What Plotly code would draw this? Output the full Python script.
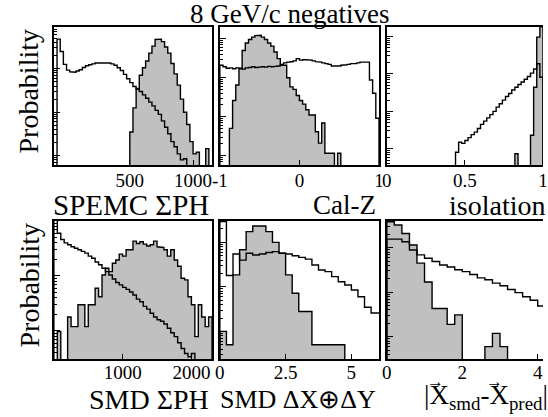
import plotly.graph_objects as go

W, H = 548, 417

# ---------------- data (histogram bin contents, arbitrary units) ----------------
# Panel 1: SPEMC sum PH
spemc_bin_lo, spemc_bin_w = -100.0, 25.0
spemc_pions = [0, 480, 250, 126, 93, 85, 83, 89, 95, 107, 117, 123, 129, 135,
               138, 140, 138, 135, 129, 120, 105, 91, 74, 59, 48, 39, 34, 30,
               25, 21, 17, 14, 11, 8.9, 6.3, 4.5, 3.2, 2.1, 1.6, 1.1, 0.8, 0.85]
spemc_e_lo = 475.0
spemc_electrons = [0, 3.5, 12.6, 35, 71, 105, 151, 229, 331, 470, 480, 420, 316,
                   229, 132, 76, 42, 20, 10, 5.2, 2.1, 1.1, 1.2, 0, 0, 1.45]

# Panel 2: Cal-Z
calz_bin_lo, calz_bin_w = -1.0, 0.04
calz_pions = [209, 190, 174, 178, 170, 178, 174, 166, 178, 182, 190, 182, 186,
              190, 186, 195, 190, 195, 200, 219, 240, 251, 257, 269, 309, 282,
              288, 288, 282, 269, 257, 251, 240, 229, 219, 200, 195, 200, 209,
              214, 219, 229, 229, 240, 251, 257, 251, 87, 40, 9.1]
calz_electrons = [0, 0, 0, 5.0, 26, 65, 170, 500, 776, 955, 1096, 1202, 1230,
                  1096, 955, 776, 646, 457, 309, 209, 209, 100, 58, 50, 35, 26,
                  21, 15, 11, 11, 4.1, 2.1, 6.9, 1.15, 1.15, 1.15, 0, 1.15, 0, 0,
                  0, 0, 0, 0, 0, 0, 0, 0, 0, 0]

# Panel 3: isolation
iso_bin_lo, iso_bin_w = 0.0, 0.02
iso_pions = [0] * 22 + [0.81, 1.5, 1.4, 1.67, 2.0, 2.4, 2.8, 3.5, 4.5, 5.5, 6.7,
                        8.2, 10, 13, 16, 20, 25, 30, 37, 44, 52, 61, 72, 85, 105,
                        135, 186, 81]
iso_electrons = [0] * 41 + [0.74, 0, 0, 0, 0, 2.3, 44, 955, 1800]

# Panel 4: SMD sum PH
smd_bin_lo, smd_bin_w = 0.0, 50.0
smd_pions = [110, 60, 46, 40, 37, 34, 32, 30, 28, 26, 23, 21, 18, 16, 13.8, 12,
             10.4, 8.8, 7.6, 6.9, 6.2, 5.7, 5.1, 4.5, 3.8, 3.4, 2.8, 2.5, 2.1,
             1.8, 1.6, 1.5, 1.34, 1.12, 0.93, 0.79, 0.61, 0.48, 0.39, 0.34, 0.39,
             0, 0, 0, 0, 0]
smd_electrons = [0, 0.98, 0, 0, 1.8, 1.2, 1.2, 3.0, 3.0, 1.2, 3.0, 3.0, 6.0, 4.2,
                 10.4, 13.8, 12, 17, 19.5, 25, 23, 30, 30, 43, 39, 42, 38, 35, 37,
                 43, 34, 33, 30, 23, 30, 19.5, 15, 9.1, 8.5, 4.2, 3.0, 0.79, 3.0,
                 1.8, 1.2, 1.8]

# Panel 5: SMD dX (+) dY
dxy_bin_lo, dxy_bin_w = 0.0, 0.25
dxy_pions = [295, 18, 55, 40, 57, 52, 55, 59, 62, 57, 55, 50, 46, 42, 31, 24, 22,
             17, 13, 11, 8.5, 6.0, 3.5, 2.6, 2.6]
dxy_electrons = [1.0, 0.5, 18.6, 68, 174, 234, 234, 174, 100, 57, 18.6, 7.2, 2.8,
                 2.8, 0.5, 0.5, 0.5, 0.5, 0.5, 0, 0, 0, 0, 0, 0]

# Panel 6: |X_smd - X_pred|
dist_bin_lo, dist_bin_w = 0.0, 0.2
dist_pions = [156, 156, 136, 89, 69, 58, 49, 41, 37, 32, 29, 25, 21, 19, 16, 14,
              11.5, 9.8, 7.9, 6.6, 4.9, 3.6]
dist_electrons = [383, 324, 209, 115, 45, 17, 4.3, 4.3, 1.9, 3.1, 0, 0, 0, 0.6,
                  1.19, 0.6, 0, 0, 0, 0, 0, 0]

# tick labels
tick_sets = [
    ([500, 1000], ["500", "1000"]),
    ([-1, 0, 1], ["-1", "0", "1"]),
    ([0, 0.5, 1], ["0", "0.5", "1"]),
    ([1000, 2000], ["1000", "2000"]),
    ([0, 2.5, 5], ["0", "2.5", "5"]),
    ([0, 2, 4], ["0", "2", "4"]),
]
x_titles = ["SPEMC ΣPH", "Cal-Z", "isolation", "SMD ΣPH", "SMD ΔX⊕ΔY",
            "|X<sub>smd</sub>-X<sub>pred</sub>|"]
title_sizes = [29, 27, 28, 28, 26, 27]

# ---------------- styling / layout ----------------
FONT = "Liberation Serif"
GRAY = "#c0c0c0"
FLOOR = 1e-4

cols = [(47, 209), (217, 380), (388, 548)]
rows = [(27, 165), (221, 359)]
x_ranges = [[-100, 1150], [-1, 1], [0, 1.0], [0, 2300], [0, 6.05], [0, 4.14]]
y_ranges = [[-0.215, 2.96], [-0.24, 3.30], [-0.43, 3.25],
            [-0.51, 2.0], [-0.62, 2.48], [-0.5, 2.6]]

hists = [
    (spemc_bin_lo, spemc_bin_w, spemc_pions, spemc_e_lo, spemc_bin_w, spemc_electrons),
    (calz_bin_lo, calz_bin_w, calz_pions, calz_bin_lo, calz_bin_w, calz_electrons),
    (iso_bin_lo, iso_bin_w, iso_pions, iso_bin_lo, iso_bin_w, iso_electrons),
    (smd_bin_lo, smd_bin_w, smd_pions, smd_bin_lo, smd_bin_w, smd_electrons),
    (dxy_bin_lo, dxy_bin_w, dxy_pions, dxy_bin_lo, dxy_bin_w, dxy_electrons),
    (dist_bin_lo, dist_bin_w, dist_pions, dist_bin_lo, dist_bin_w, dist_electrons),
]


def step_xy(lo, w, vals):
    xs, ys = [lo], [FLOOR]
    for i, v in enumerate(vals):
        y = v if v > 0 else FLOOR
        xs += [lo + i * w, lo + (i + 1) * w]
        ys += [y, y]
    xs.append(lo + len(vals) * w)
    ys.append(FLOOR)
    return xs, ys


fig = go.Figure()
layout = dict(
    width=W, height=H, margin=dict(l=0, r=0, t=0, b=0),
    paper_bgcolor="white", plot_bgcolor="white", showlegend=False,
    font=dict(family=FONT, color="black", size=18),
)
annotations = []

for k in range(6):
    r, c = divmod(k, 3)
    xa = "x" if k == 0 else f"x{k + 1}"
    ya = "y" if k == 0 else f"y{k + 1}"
    xkey = "xaxis" if k == 0 else f"xaxis{k + 1}"
    ykey = "yaxis" if k == 0 else f"yaxis{k + 1}"
    x0, x1 = cols[c]
    y0, y1 = rows[r]

    plo, pw, pv, elo, ew, ev = hists[k]
    ex, ey = step_xy(elo, ew, ev)
    fig.add_trace(go.Scatter(x=ex, y=ey, mode="lines", fill="toself",
                             fillcolor=GRAY, line=dict(color="black", width=1.4),
                             xaxis=xa, yaxis=ya, hoverinfo="skip"))
    px_, py_ = step_xy(plo, pw, pv)
    fig.add_trace(go.Scatter(x=px_, y=py_, mode="lines",
                             line=dict(color="black", width=1.4),
                             xaxis=xa, yaxis=ya, hoverinfo="skip"))

    tv, tt = tick_sets[k]
    layout[xkey] = dict(
        domain=[x0 / W, x1 / W], anchor=ya, range=x_ranges[k],
        showgrid=False, zeroline=False, showline=True, linecolor="black",
        linewidth=1.5, mirror=True, ticks="inside", ticklen=5, tickwidth=1,
        tickcolor="black", tickvals=tv, ticktext=tt,
        ticklabelstandoff=(-3 if r == 0 else -5),
        tickfont=dict(family=FONT, size=19, color="black"),
    )
    layout[ykey] = dict(
        domain=[1 - y1 / H, 1 - y0 / H], anchor=xa, type="log",
        range=y_ranges[k], showgrid=False, zeroline=False, showline=True,
        linecolor="black", linewidth=1.5, mirror=(c != 2),
        ticks="inside", ticklen=6, tickwidth=1, tickcolor="black", dtick=1,
        showticklabels=False,
        minor=dict(ticks="inside", ticklen=3, tickwidth=1, tickcolor="black",
                   showgrid=False),
    )
    if k == 5:
        # left aligned so the vector arrows can sit over the two X's
        annotations.append(dict(
            text=x_titles[k], xref="paper", yref="paper",
            x=424 / W, y=1 - 397 / H, xanchor="left", yanchor="middle",
            showarrow=False, font=dict(family=FONT, size=title_sizes[k], color="black"),
        ))
        for xc in (438, 498):
            annotations.append(dict(
                text="\u2192", xref="paper", yref="paper", x=xc / W,
                y=1 - 381 / H, xanchor="center", yanchor="middle",
                showarrow=False, font=dict(family=FONT, size=17, color="black"),
            ))
    else:
        annotations.append(dict(
            text=x_titles[k], xref="paper", yref="paper",
            x=(x1 + (4 if c == 2 else -1)) / W, y=1 - (y1 + 40) / H,
            xanchor="right", yanchor="middle", showarrow=False,
            font=dict(family=FONT, size=title_sizes[k], color="black"),
        ))

for r in range(2):
    y0, y1 = rows[r]
    annotations.append(dict(
        text="Probability", xref="paper", yref="paper", x=22 / W,
        y=1 - ((y0 + y1) / 2 - 5) / H, xanchor="center", yanchor="middle",
        textangle=-90, showarrow=False,
        font=dict(family=FONT, size=28, color="black"),
    ))

annotations.append(dict(
    text="8 GeV/c negatives", xref="paper", yref="paper", x=288 / W,
    y=1 - 14 / H, xanchor="center", yanchor="middle", showarrow=False,
    font=dict(family=FONT, size=27, color="black"),
))

layout["annotations"] = annotations
fig.update_layout(**layout)
fig.write_html("out.html")
